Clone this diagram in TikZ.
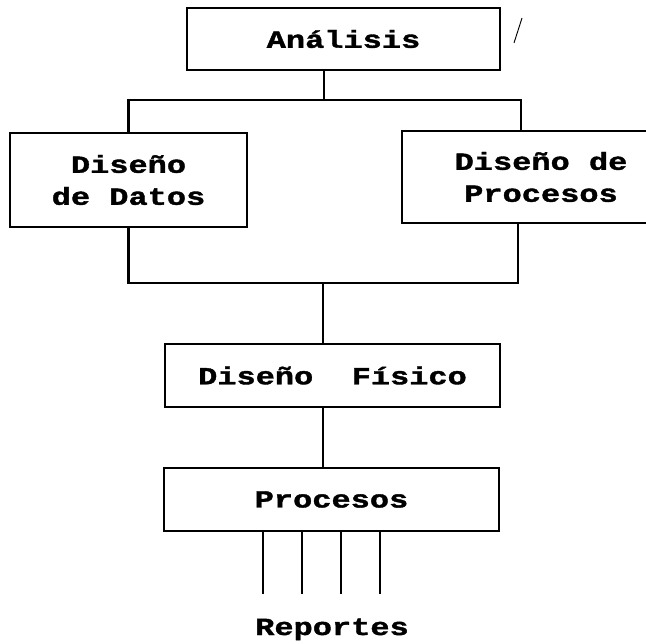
\documentclass[tikz,border=0pt]{standalone}
\usepackage{fontspec}
\setmonofont[FakeStretch=1.3, BoldFeatures={FakeBold=1.5}]{Liberation Mono}
\usepackage{tikz}
\pgfdeclarelayer{bg}
\pgfsetlayers{bg,main}
\tikzset{
    every node/.style={rectangle, draw, line width=2.5pt, inner sep=0mm, align=center,
        font=\ttfamily\bfseries\fontsize{21}{27.3}\selectfont}
}
\tikzset{conector/.style={line width=1.8pt}}

\begin{document}
\begin{tikzpicture}
        \useasboundingbox (0cm, 0cm) rectangle (19.38cm, 19.29cm);
        \node (analisis) [minimum width=9.39cm, minimum height=1.86cm] at (10.305cm, 18.12cm) {Análisis};
        \node (datos) [minimum width=7.11cm, minimum height=2.82cm] at (3.855cm, 13.89cm) {Diseño\\de Datos};
        \node (procdis) [minimum width=8.34cm, minimum height=2.76cm] at (16.23cm, 13.98cm) {Diseño de\\Procesos};
        \node (fisico) [minimum width=10.05cm, minimum height=1.89cm] at (9.975cm, 8.025cm) {Diseño\ \ Físico};
        \node (procesos) [minimum width=10.05cm, minimum height=1.89cm] at (9.945cm, 4.305cm) {Procesos};
        \node (reportes) [draw=none, anchor=base] at (9.96cm, 0.24cm) {Reportes};
        \coordinate (tm) at (9.72cm, 16.29cm);
        \coordinate (tr) at (15.63cm, 16.29cm);
        \coordinate (bm) at (9.69cm, 10.80cm);
        \coordinate (br) at (15.54cm, 10.80cm);
        \begin{pgfonlayer}{bg}
                \draw [conector] (tm |- analisis.south) -- (tm);
                \draw [conector] (datos.north) |- (tr) -- (tr |- procdis.north);
                \draw [conector] (datos.south) |- (br) -- (br |- procdis.south);
                \draw [conector] (bm) -- (bm |- fisico.north);
                \draw [conector] (bm |- fisico.south) -- (bm |- procesos.north);
                \foreach \x in {7.89, 9.06, 10.23, 11.40}
                        \draw [conector] (\x cm, 0cm |- procesos.south) -- ++(0cm, -1.86cm);
                \draw [line width=0.8pt] (15.66cm, 18.75cm) -- (15.42cm, 18.00cm);
        \end{pgfonlayer}
\end{tikzpicture}
\end{document}
